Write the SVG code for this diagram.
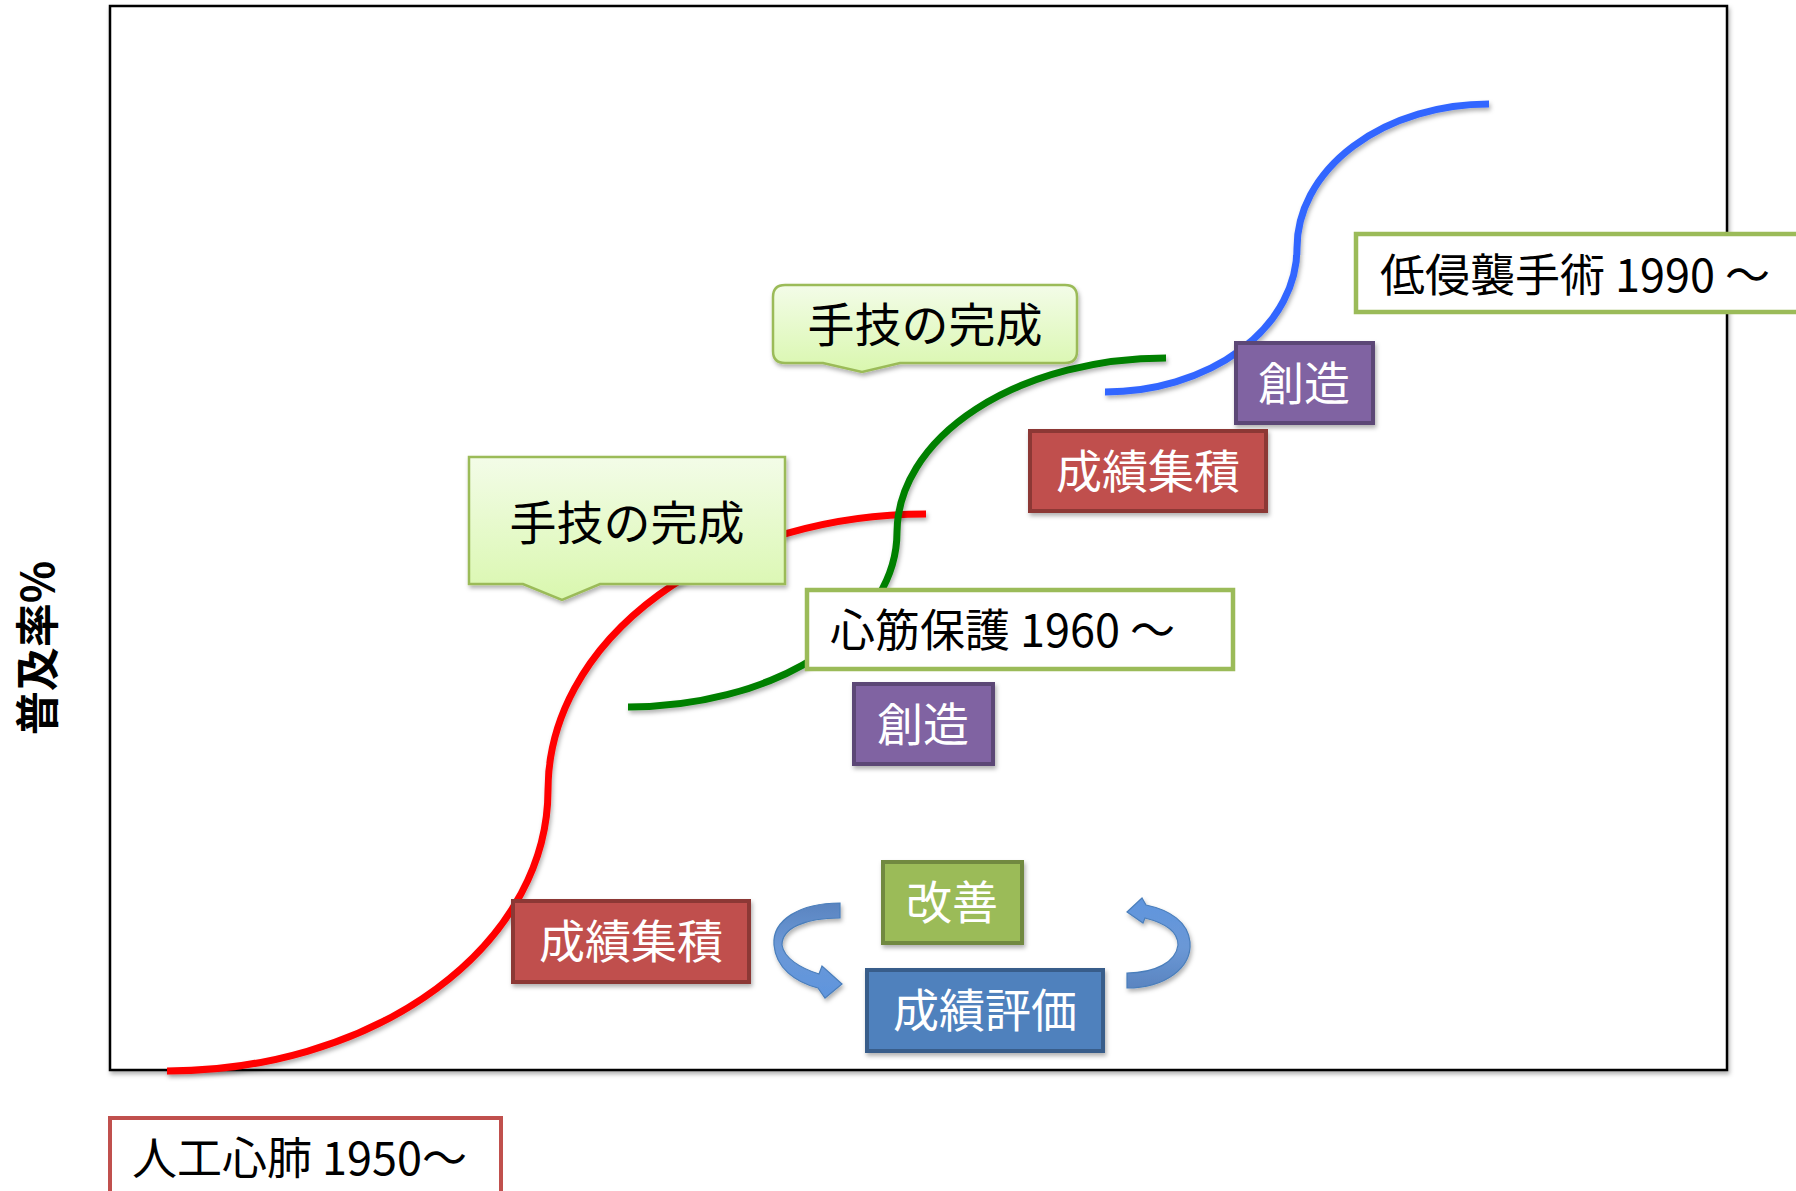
<svg xmlns="http://www.w3.org/2000/svg" width="1796" height="1191" viewBox="0 0 1796 1191">
<style>
  .t { font-family: "Noto Sans CJK JP", "Noto Sans", sans-serif; }
  .blk { fill: #000; font-size: 45px; }
  .wht { fill: #fff; font-size: 46px; text-anchor: middle; }
  .curve { fill: none; stroke-width: 7; stroke-linecap: butt; }
</style>
<defs>
  <filter id="sh" x="-10%" y="-10%" width="120%" height="130%">
    <feDropShadow dx="1.5" dy="3" stdDeviation="2" flood-color="#000" flood-opacity="0.3"/>
  </filter>
  <linearGradient id="callg" x1="0" y1="0" x2="0" y2="1">
    <stop offset="0" stop-color="#F3FCE8"/>
    <stop offset="1" stop-color="#D9F7AE"/>
  </linearGradient>
  <linearGradient id="arrL" x1="0" y1="0" x2="0" y2="1">
    <stop offset="0" stop-color="#5A84C0"/>
    <stop offset="0.45" stop-color="#6B98D6"/>
    <stop offset="1" stop-color="#5F95DE"/>
  </linearGradient>
  <linearGradient id="arrR" x1="0" y1="0" x2="0" y2="1">
    <stop offset="0" stop-color="#5F95DE"/>
    <stop offset="0.55" stop-color="#6B98D6"/>
    <stop offset="1" stop-color="#5A84C0"/>
  </linearGradient>
</defs>
<rect width="1796" height="1191" fill="#fff"/>

<!-- chart frame -->
<rect id="frame" x="110" y="6" width="1617" height="1064" fill="#fff" stroke="#000" stroke-width="2.5" filter="url(#sh)"/>

<!-- y-axis label -->
<text class="t" transform="translate(54,648) rotate(-90)" font-size="44" font-weight="bold" text-anchor="middle">普及率%</text>

<!-- connectors / curves -->
<g id="connectors">
  <path class="curve" stroke="#FF0000" filter="url(#sh)" d="M167,1071 A381,281 0 0 0 548,790 A378,276 0 0 1 926,514"/>
  <path class="curve" stroke="#008000" filter="url(#sh)" d="M628,707 A269,175 0 0 0 897,532 A269,175 0 0 1 1166,358"/>
  <path class="curve" stroke="#3366FF" filter="url(#sh)" d="M1105,392 A192,144 0 0 0 1297,248 A192,144 0 0 1 1489,104"/>
  <path id="arrow-left" fill="url(#arrL)" stroke="#4A7EBB" stroke-width="1.2" filter="url(#sh)" d="M840,903 C800,903 772,920 774,945 C776,968 795,982 818,988 L825,998 L842,984 L822,966 L819,974 C800,968 784,958 782,945 C782,928 805,918 840,918 Z"/>
  <path id="arrow-right" fill="url(#arrR)" stroke="#4A7EBB" stroke-width="1.2" filter="url(#sh)" d="M1127,988 C1165,988 1192,968 1190,942 C1188,922 1170,910 1146,905 L1142,898 L1127,912 L1143,923 L1145,918 C1165,923 1178,932 1178,945 C1176,962 1155,973 1127,973 Z"/>
</g>

<!-- callouts -->
<g id="callout-lower">
  <path d="M469,457 H785 V584 H600 L562,600 L523,584 H469 Z" fill="url(#callg)" stroke="#9BBB59" stroke-width="2.5" filter="url(#sh)"/>
  <text class="t" x="627" y="540" font-size="47" text-anchor="middle">手技の完成</text>
</g>
<g id="callout-upper">
  <path d="M785,285 H1065 Q1077,285 1077,297 V351 Q1077,363 1065,363 H900 L862,372 L823,363 H785 Q773,363 773,351 V297 Q773,285 785,285 Z" fill="url(#callg)" stroke="#9BBB59" stroke-width="2.5" filter="url(#sh)"/>
  <text class="t" x="925" y="342" font-size="47" text-anchor="middle">手技の完成</text>
</g>

<!-- era labels -->
<g id="era-1950">
  <rect x="110" y="1118" width="391" height="100" fill="#fff" stroke="#C0504D" stroke-width="4"/>
  <text class="t blk" x="132" y="1175" font-size="44">人工心肺 1950～</text>
</g>
<g id="era-1960">
  <rect x="807" y="590" width="426" height="79" fill="#fff" stroke="#9BBB59" stroke-width="4.5"/>
  <text class="t blk" x="830" y="647">心筋保護 1960 ～</text>
</g>
<g id="era-1990">
  <rect x="1356" y="234" width="500" height="78" fill="#fff" stroke="#9BBB59" stroke-width="4.5"/>
  <text class="t blk" x="1380" y="292">低侵襲手術 1990 ～</text>
</g>

<!-- colored boxes -->
<g id="souzou-upper">
  <rect x="1236" y="343" width="137" height="80" fill="#8064A2" stroke="#5C4776" stroke-width="4" filter="url(#sh)"/>
  <text class="t wht" x="1304" y="400">創造</text>
</g>
<g id="souzou-lower">
  <rect x="854" y="684" width="139" height="80" fill="#8064A2" stroke="#5C4776" stroke-width="4" filter="url(#sh)"/>
  <text class="t wht" x="923" y="741">創造</text>
</g>
<g id="seiseki-upper">
  <rect x="1030" y="431" width="236" height="80" fill="#C0504D" stroke="#8C3836" stroke-width="4" filter="url(#sh)"/>
  <text class="t wht" x="1148" y="488">成績集積</text>
</g>
<g id="seiseki-lower">
  <rect x="513" y="901" width="236" height="81" fill="#C0504D" stroke="#8C3836" stroke-width="4" filter="url(#sh)"/>
  <text class="t wht" x="631" y="958">成績集積</text>
</g>
<g id="kaizen">
  <rect x="883" y="862" width="139" height="81" fill="#9BBB59" stroke="#71893F" stroke-width="4" filter="url(#sh)"/>
  <text class="t wht" x="952" y="919">改善</text>
</g>
<g id="hyouka">
  <rect x="867" y="970" width="236" height="81" fill="#4F81BD" stroke="#385D8A" stroke-width="4" filter="url(#sh)"/>
  <text class="t wht" x="985" y="1027">成績評価</text>
</g>
</svg>
